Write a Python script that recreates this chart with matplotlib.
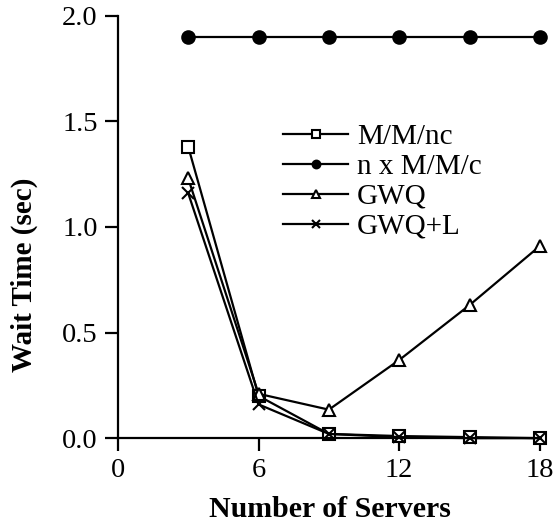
import matplotlib.pyplot as plt

plt.rcParams['font.family'] = ['Liberation Serif', 'DejaVu Serif']

# DATA
servers = [3, 6, 9, 12, 15, 18]
mmnc = [1.38, 0.20, 0.02, 0.01, 0.005, 0.0]
n_mmc = [1.90, 1.90, 1.90, 1.90, 1.90, 1.90]
gwq = [1.23, 0.21, 0.135, 0.37, 0.63, 0.91]
gwq_l = [1.16, 0.16, 0.02, 0.005, 0.0, 0.0]

fig = plt.figure(figsize=(5.56, 5.26), dpi=100)
ax = fig.add_axes([0.212, 0.167, 0.759, 0.803])

style = dict(color="black", lw=1.6, markersize=9, clip_on=False, markeredgewidth=1.5)
ax.plot(servers, mmnc, marker="s", mfc="white", label="M/M/nc", **style)
ax.plot(servers, n_mmc, marker="o", mfc="black", label="n x M/M/c", **style)
ax.plot(servers, gwq, marker="^", mfc="white", label="GWQ", **style)
ax.plot(servers, gwq_l, marker="x", label="GWQ+L", **style)

ax.set_xlim(0, 18)
ax.set_ylim(0, 2.0)
ax.set_xticks([0, 6, 12, 18])
ax.set_yticks([0, 0.5, 1.0, 1.5, 2.0])
ax.set_yticklabels(["0.0", "0.5", "1.0", "1.5", "2.0"])

for s in ["top", "right"]:
    ax.spines[s].set_visible(False)
for s in ["left", "bottom"]:
    ax.spines[s].set_linewidth(1.6)
ax.tick_params(labelsize=20.5, width=1.6, length=9.4, pad=5, direction="out")

ax.set_xlabel("Number of Servers", fontsize=21.5, fontweight="bold")
ax.set_ylabel("Wait Time (sec)", fontsize=21, fontweight="bold")
ax.xaxis.set_label_coords(0.502, -0.138)
ax.yaxis.set_label_coords(-0.19, 0.386)

ax.legend(loc="upper left", bbox_to_anchor=(0.509, 0.765), bbox_transform=fig.transFigure,
          frameon=False, fontsize=21, handlelength=2.23, labelspacing=0.12,
          handletextpad=0.3, borderpad=0, borderaxespad=0, markerscale=0.62)

plt.savefig("out.png", dpi=100)
